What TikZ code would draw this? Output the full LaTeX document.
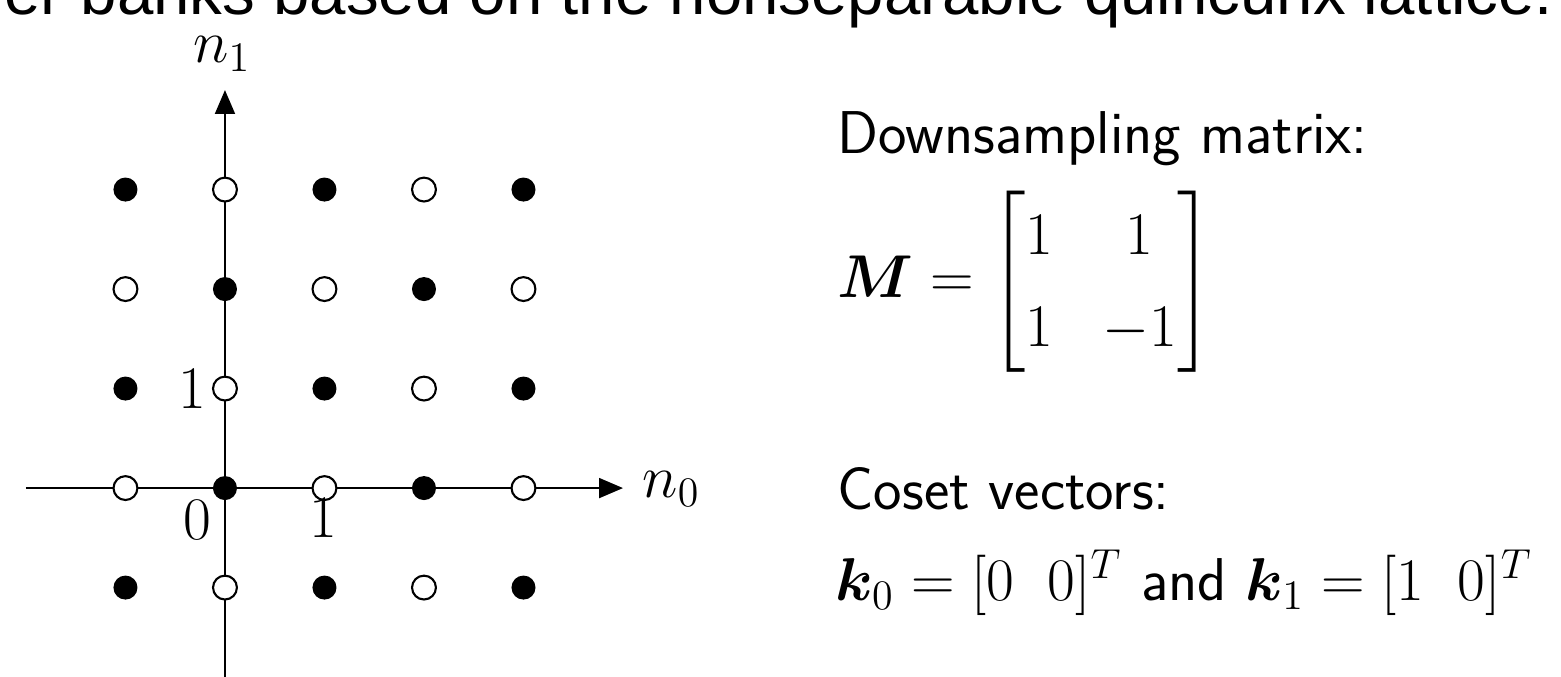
\documentclass[tikz,border=0pt]{standalone}
\usepackage{fontspec}
\usepackage{amsmath}
\usepackage{bm}
\usepackage{tikz}
\usetikzlibrary{arrows.meta, positioning, calc}
\newfontfamily\headfont{Liberation Sans}

\tikzset{
  axisline/.style={line width=0.6pt, -{Triangle[length=0.24cm, width=0.2cm]}},
  filledpt/.style={circle, fill=black, draw=black, line width=0.6pt, inner sep=0pt, minimum size=0.22cm},
  openpt/.style={circle, fill=white, draw=black, line width=0.6pt, inner sep=0pt, minimum size=0.24cm},
  ticklbl/.style={inner sep=0pt, font=\LARGE},
  sidetext/.style={inner sep=0pt, anchor=base west, font=\LARGE\sffamily},
}

\begin{document}
\begin{tikzpicture}
    \useasboundingbox (-2.261,-1.889) rectangle (13.427,4.905);
    \clip (-2.261,-1.889) rectangle (13.427,4.905);

    \node[anchor=base east, inner sep=0pt, font=\headfont\fontsize{18.7}{22}\selectfont] (title)
        at (13.357,4.764) {er banks based on the nonseparable quincunx lattice.};

    \coordinate (xstart) at (-2,0);
    \coordinate (xend) at (4,0);
    \coordinate (ystart) at (0,-2);
    \coordinate (yend) at (0,4);
    \draw[axisline] (xstart) -- (xend);
    \draw[axisline] (ystart) -- (yend);

    \foreach \i in {-1,...,3}{
        \foreach \j in {-1,...,3}{
            \ifodd\numexpr\i+\j\relax
                \node[openpt] (p\i\j) at (\i,\j) {};
            \else
                \node[filledpt] (p\i\j) at (\i,\j) {};
            \fi
        }
    }

    \node[ticklbl] (lblzero) at (-0.28,-0.32) {$0$};
    \node[ticklbl] (lblonex) at (0.99,-0.30) {$1$};
    \node[ticklbl] (lbloney) at (-0.33,1.0) {$1$};
    \node[ticklbl, anchor=base] (lblnone) at (-0.03,4.28) {$n_1$};
    \node[ticklbl, anchor=base west] (lblnzero) at (4.19,-0.09) {$n_0$};

    \node[sidetext] (dstext) at (6.15,3.367) {Downsampling matrix:};
    \node[sidetext] (mateq) at (6.15,1.92)
        {\setlength{\arraycolsep}{7pt}\renewcommand{\arraystretch}{1.2}%
         $\bm{M} = \begin{bmatrix} 1 & 1 \\ 1 & -1 \end{bmatrix}$};
    \node[sidetext] (cstext) at (6.15,-0.22) {Coset vectors:};
    \node[sidetext] (kvecs) at (6.13,-1.126)
        {$\bm{k}_0 = [0\;\;0]^T$ and $\bm{k}_1 = [1\;\;0]^T$};
\end{tikzpicture}
\end{document}
